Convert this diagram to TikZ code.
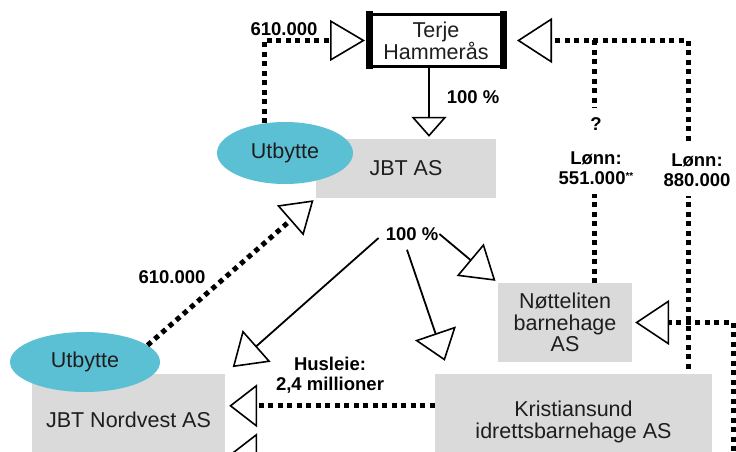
\documentclass[tikz,border=0pt]{standalone}
\usepackage{fontspec}
\setmainfont{Liberation Sans}
\usetikzlibrary{arrows.meta,shapes.geometric,calc}
\definecolor{boxgray}{RGB}{218,218,218}
\definecolor{utblue}{RGB}{92,192,212}
\definecolor{txt}{RGB}{30,30,30}
\begin{document}
\begin{tikzpicture}[x=1pt,y=-1pt,
  box/.style={fill=boxgray, draw=none, align=center, text=txt,
    font=\fontsize{21.5}{21.5}\selectfont, inner sep=0pt},
  tbox/.style={draw=black, line width=3pt, fill=white, align=center, text=txt,
    font=\fontsize{21.5}{22}\selectfont, inner sep=0pt},
  ell/.style={ellipse, fill=utblue, draw=none, inner sep=0pt, text=txt,
    font=\fontsize{21.5}{21.5}\selectfont},
  lbl/.style={font=\fontsize{18.5}{20}\selectfont\bfseries, align=center, inner sep=1pt},
  dotl/.style={line width=5pt, dash pattern=on 5pt off 4.5pt},
  sol/.style={line width=1.8pt},
  tri/.style 2 args={-{Triangle[open, length=#1, width=#2, line width=1.6pt]}}
]
\useasboundingbox (0,0) rectangle (736,452);

% nodes
\node[tbox, minimum width=135pt, minimum height=52pt] (terje) at (436,40.5) {Terje\\Hammerås};
\draw[line width=7pt] ([shift={(2pt,1.5pt)}]terje.north west) -- ([shift={(2pt,-1.5pt)}]terje.south west);
\draw[line width=7pt] ([shift={(-2pt,1.5pt)}]terje.north east) -- ([shift={(-2pt,-1.5pt)}]terje.south east);

\node[box, minimum width=180pt, minimum height=59pt] (jbt) at (406,168.5) {JBT AS};
\node[ell, minimum width=136pt, minimum height=62pt] (ut1) at (285,153) {Utbytte};

\node[box, minimum width=193pt, minimum height=92pt] (nord) at (128.5,420) {JBT Nordvest AS};
\node[ell, minimum width=150pt, minimum height=60pt] (ut2) at (85,362) {Utbytte};

\node[box, minimum width=134pt, minimum height=79pt] (nott) at (565,322.5) {Nøtteliten\\barnehage\\AS};
\node[box, minimum width=277pt, minimum height=96pt] (krist) at (573.5,422) {Kristiansund\\idrettsbarnehage AS};

\node[lbl] (pct) at (412,234) {100 \%};
\node[lbl] (p100) at (473,97) {100 \%};
\node[lbl] (l610a) at (284,29) {610.000};
\node[lbl] (l610b) at (172,277) {610.000};
\node[lbl] (husl) at (330,375) {Husleie:\\2,4 millioner};

\coordinate (c880) at (688,40.5);
\coordinate (c551) at (594,40.5);
\coordinate (cR) at (733,470);
\coordinate (hus) at ($(krist.north west)+(0,32)$);
\coordinate (hus2) at ($(krist.north west)+(0,81)$);

% connectors
\draw[sol, tri={20pt}{35pt}, shorten >=2pt] ([xshift=-7pt]terje.south) -- ([xshift=-7pt]terje.south |- jbt.north);
\draw[dotl, tri={35pt}{41pt}, shorten >=2pt] (ut1.125) |- (terje.west);
\draw[dotl, tri={35pt}{45pt}, shorten >=12pt] ([yshift=5pt]c880 |- krist.north) -- (c880) -- (terje.east);
\draw[dotl] (c551) -- (c551 |- nott.north);
\draw[dotl, tri={34pt}{45pt}, shorten >=3pt] (cR) |- (nott.east);
\draw[dotl, tri={31pt}{40pt}, shorten >=3pt] (ut2.15) -- (jbt.south west);
\draw[sol, tri={32pt}{42pt}, shorten >=10pt] ($(pct.west)+(-6,4)$) -- (nord.north east);
\draw[sol, tri={29pt}{43pt}] ($(pct.south)+(-5,8)$) -- ($(krist.north west)+(10,-13)$);
\draw[sol, tri={33pt}{42pt}, shorten >=3pt] (pct.east) -- (nott.north west);
\draw[dotl, tri={28pt}{43pt}, shorten >=4pt] (hus) -- (hus -| nord.east);
\draw[dotl, tri={28pt}{43pt}, shorten >=4pt] (hus2) -- (hus2 -| nord.east);

% labels over dotted lines
\node[lbl, fill=white, inner xsep=3pt, inner ysep=9pt] (l551) at (596,151)
  {?\\[14pt]Lønn:\\551.000\raisebox{5pt}{\fontsize{10}{10}\selectfont **}};
\node[lbl, fill=white, inner xsep=2pt, inner ysep=10pt] (l880) at (697,170) {Lønn:\\880.000};
\end{tikzpicture}
\end{document}
